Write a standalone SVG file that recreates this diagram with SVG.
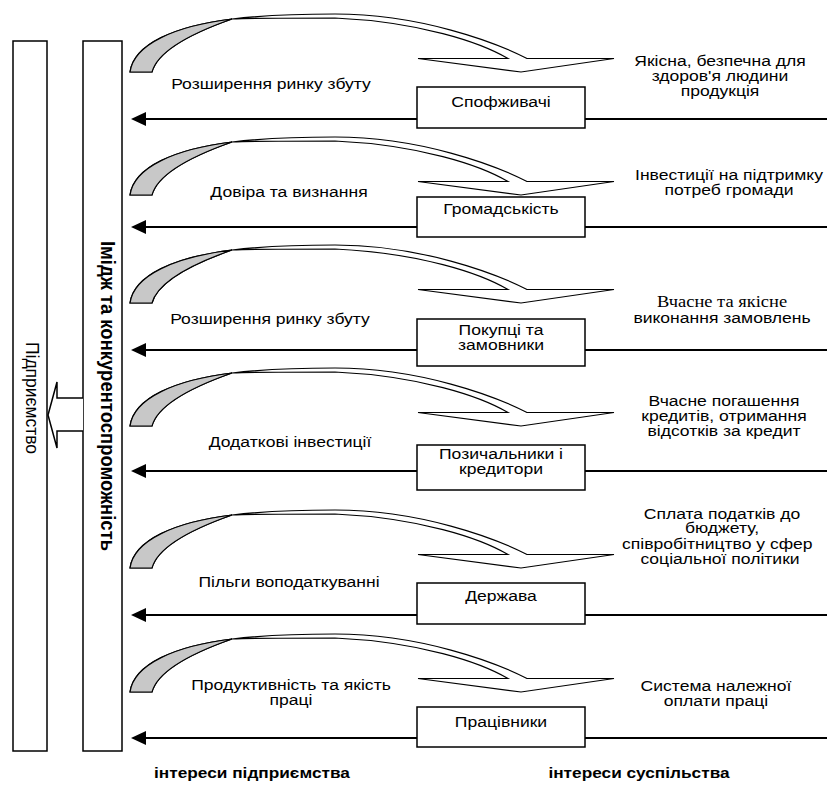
<svg xmlns="http://www.w3.org/2000/svg" width="827" height="807" viewBox="0 0 827 807">
<defs>
<style>
.t{font-family:"Liberation Sans",Arial,sans-serif;font-size:15px;text-anchor:middle;fill:#000}
.sf{font-family:"Liberation Serif","Times New Roman",serif;font-size:16.5px}
.b{font-weight:bold}
.st{text-anchor:start}
.frame{fill:#fff;stroke:#000;stroke-width:1.5}
.box{fill:#fff;stroke:#000;stroke-width:1.5}
.line{stroke:#000;stroke-width:2;fill:none}
.ca{fill:#fff;stroke:#000;stroke-width:1.2;stroke-linejoin:miter}
.cg{fill:#c8c8c8;stroke:#000;stroke-width:1.2}
</style>
<marker id="ah" markerUnits="userSpaceOnUse" viewBox="0 0 15 14" markerWidth="15" markerHeight="14" refX="13" refY="7" orient="auto"><path d="M0,0 L15,7 L0,14 Z" fill="#000"/></marker>
<g id="curved">
<path class="ca" d="M130,0 C134,-28 175,-46 232,-53 C265,-57 300,-58 335,-58 C420,-58 495,-30 527,-13.5 L614,-13.5 L521,0 L418,-13.5 L508,-13.5 C480,-30 420,-50 335,-54 C290,-54 255,-54 232,-53 C195,-40 158,-22 152,0 Z"/>
<path class="cg" d="M130,0 C134,-28 175,-46 232,-53 C195,-40 158,-22 152,0 Z"/>
</g>
</defs>
<rect width="827" height="807" fill="#fff"/>

<g id="node-pidpryiemstvo">
<rect class="frame" x="13" y="41" width="34" height="710"/>
<text class="t" transform="matrix(0 1 -1.1 0 25.5 398)" style="font-size:17.5px">Підприємство</text>
</g>
<g id="node-imidzh">
<rect class="frame" x="83" y="41" width="39" height="710"/>
<text class="t b" transform="matrix(0 1 -1.12 0 100.5 396)" style="font-size:18.5px">Імідж та конкурентоспроможність</text>
</g>

<g id="connectors">
<path class="box" d="M83,398 H57 V382 L48,415 L57,448 V431 H83"/>
<use href="#curved" transform="translate(0,72)"/>
<use href="#curved" transform="translate(0,195)"/>
<use href="#curved" transform="translate(0,303)"/>
<use href="#curved" transform="translate(0,426)"/>
<use href="#curved" transform="translate(0,568)"/>
<use href="#curved" transform="translate(0,692)"/>
<line class="line" x1="827" y1="119" x2="133" y2="119" marker-end="url(#ah)"/>
<line class="line" x1="827" y1="227" x2="133" y2="227" marker-end="url(#ah)"/>
<line class="line" x1="827" y1="350" x2="133" y2="350" marker-end="url(#ah)"/>
<line class="line" x1="827" y1="471" x2="133" y2="471" marker-end="url(#ah)"/>
<line class="line" x1="827" y1="615" x2="133" y2="615" marker-end="url(#ah)"/>
<line class="line" x1="827" y1="738" x2="133" y2="738" marker-end="url(#ah)"/>
</g>

<g id="labels-left">
<text class="t" transform="matrix(1.17 0 0 1 271 89)">Розширення ринку збуту</text>
<text class="t" transform="matrix(1.17 0 0 1 289 197)">Довіра та визнання</text>
<text class="t" transform="matrix(1.17 0 0 1 270 324)">Розширення ринку збуту</text>
<text class="t" transform="matrix(1.17 0 0 1 290 447)">Додаткові інвестиції</text>
<text class="t" transform="matrix(1.17 0 0 1 289 587)">Пільги воподаткуванні</text>
<text class="t" transform="matrix(1.17 0 0 1 291 689.5)"><tspan x="0" y="0">Продуктивність та якість</tspan><tspan x="0" y="15.5">праці</tspan></text>
</g>

<g id="labels-right">
<text class="t" transform="matrix(1.17 0 0 1 720 65.5)"><tspan x="0" y="0">Якісна, безпечна для</tspan><tspan x="0" y="15.5">здоров'я людини</tspan><tspan x="0" y="31">продукція</tspan></text>
<text class="t" transform="matrix(1.17 0 0 1 729 179.5)"><tspan x="0" y="0">Інвестиції на підтримку</tspan><tspan x="0" y="15.5">потреб громади</tspan></text>
<text class="t sf" transform="matrix(1.12 0 0 1 722 307)">Вчасне та якісне</text>
<text class="t" transform="matrix(1.17 0 0 1 722 322.5)">виконання замовлень</text>
<text class="t" transform="matrix(1.17 0 0 1 724 405.5)"><tspan x="0" y="0">Вчасне погашення</tspan><tspan x="0" y="15.5">кредитів, отримання</tspan><tspan x="0" y="31">відсотків за кредит</tspan></text>
<text class="t" transform="matrix(1.17 0 0 1 722 518.5)"><tspan x="0" y="0">Сплата податків до</tspan><tspan x="0" y="15">бюджету,</tspan></text>
<text class="t st" transform="matrix(1.17 0 0 1 622 548.5)">співробітництво у сфер</text>
<text class="t" transform="matrix(1.17 0 0 1 720 563.5)">соціальної політики</text>
<text class="t" transform="matrix(1.17 0 0 1 716 690.5)"><tspan x="0" y="0">Система належної</tspan><tspan x="0" y="15.5">оплати праці</tspan></text>
</g>

<g id="node-spozhyvachi">
<rect class="box" x="417" y="87" width="168" height="41"/>
<text class="t" transform="matrix(1.17 0 0 1 501 107)">Спофживачі</text>
</g>
<g id="node-hromadskist">
<rect class="box" x="417" y="197" width="168" height="40"/>
<text class="t" transform="matrix(1.17 0 0 1 501 214)">Громадськість</text>
</g>
<g id="node-pokuptsi">
<rect class="box" x="417" y="319" width="168" height="47"/>
<text class="t" transform="matrix(1.17 0 0 1 501 335)"><tspan x="0" y="0">Покупці та</tspan><tspan x="0" y="15">замовники</tspan></text>
</g>
<g id="node-pozychalnyky">
<rect class="box" x="417" y="445" width="168" height="45"/>
<text class="t" transform="matrix(1.17 0 0 1 501 459)"><tspan x="0" y="0">Позичальники і</tspan><tspan x="0" y="15">кредитори</tspan></text>
</g>
<g id="node-derzhava">
<rect class="box" x="417" y="583" width="168" height="41"/>
<text class="t" transform="matrix(1.17 0 0 1 501 601)">Держава</text>
</g>
<g id="node-pratsivnyky">
<rect class="box" x="417" y="707" width="168" height="40"/>
<text class="t" transform="matrix(1.17 0 0 1 501 727)">Працівники</text>
</g>

<g id="footer">
<text class="t b" transform="matrix(1.15 0 0 1 252 778)">інтереси підприємства</text>
<text class="t b" transform="matrix(1.15 0 0 1 639 778)">інтереси суспільства</text>
</g>
</svg>
